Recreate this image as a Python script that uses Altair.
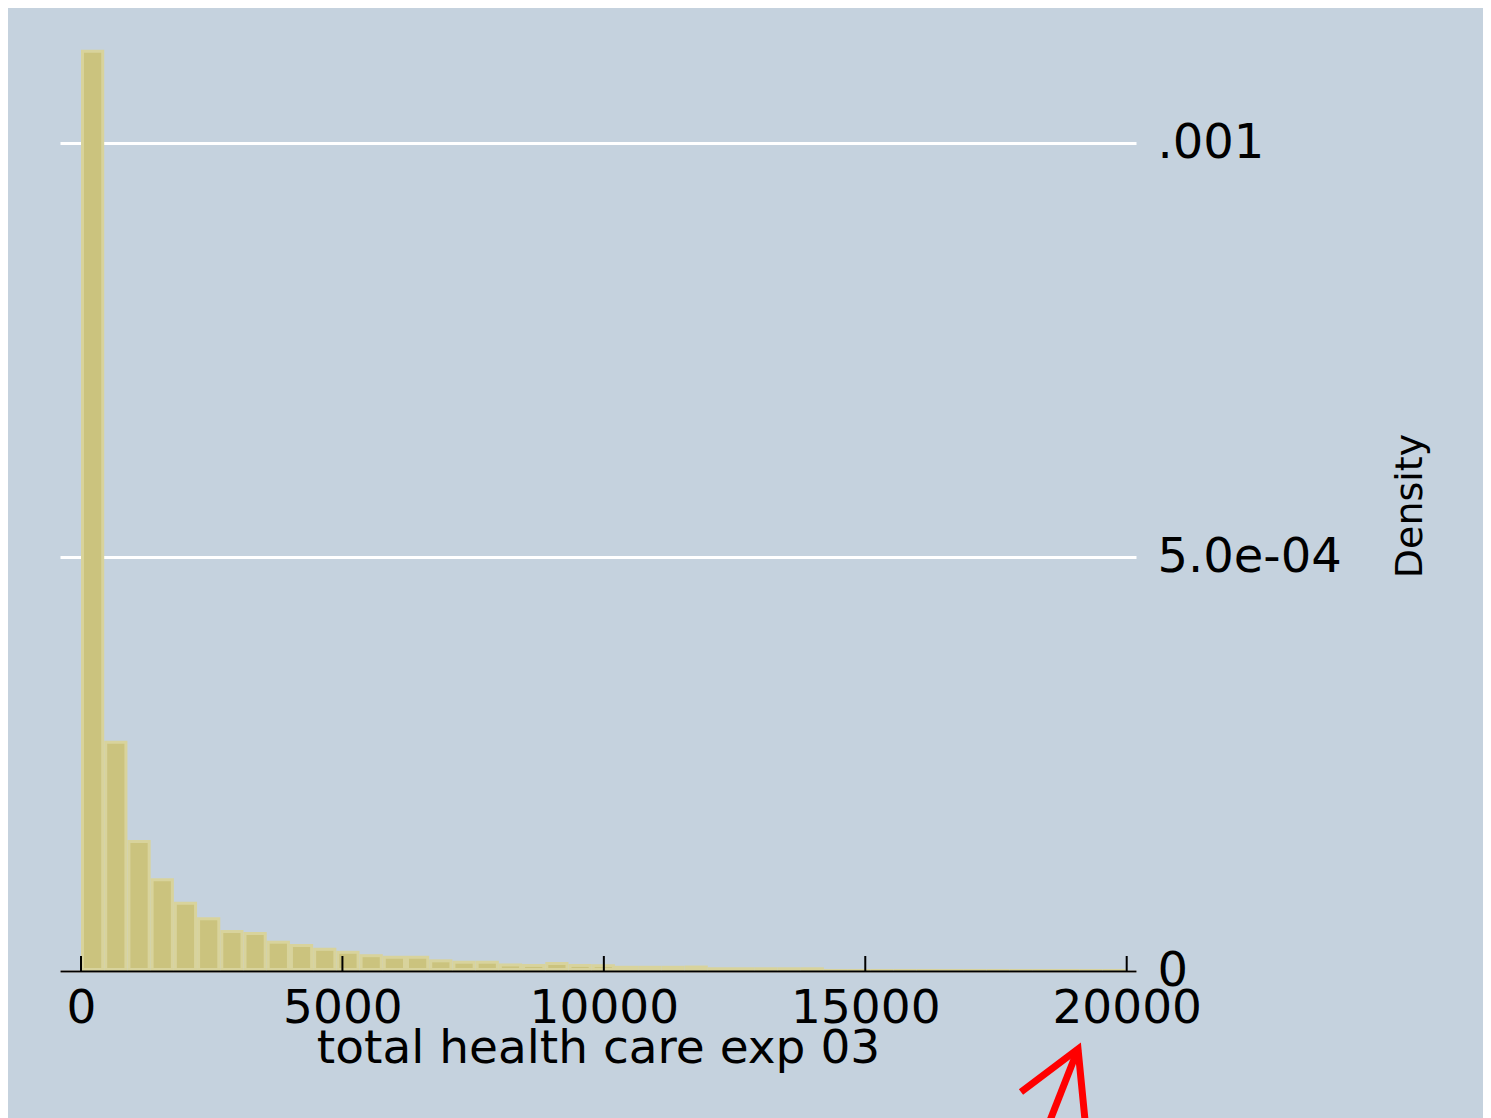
import altair as alt
import pandas as pd

# ---- data ----
bin_width = 444
density_e6 = [1113, 278.2, 158.3, 112.0, 83.7, 64.9, 49.5, 47.1, 36.6, 32.6,
              28.0, 24.4, 20.3, 18.4, 18.4, 14.1, 12.4, 12.4, 9.1, 8.5,
              10.9, 8.5, 8.2, 6.3, 6.3, 6.3, 6.6, 4.5, 4.5, 4.5,
              4.5, 4.5, 2.4, 2.4, 2.4, 2.4, 2.4, 2.4, 2.4, 2.4,
              2.4, 2.4, 2.4, 2.4, 2.4]
x_ticks = [0, 5000, 10000, 15000, 20000]
y_ticks = [0, 0.0005, 0.001]
y_tick_labels = ["0", "5.0e-04", ".001"]
x_title = "total health care exp 03"
y_title = "Density"
x_domain = [-401.6, 20177.9]
y_domain = [0, 0.0011248]
# red annotation arrow (data units)
arrow_wings_x = [17978, 19069, 19212]
arrow_wings_y = [-1.462e-4, -9.42e-5, -1.861e-4]
arrow_shaft_x = [19069, 18499]
arrow_shaft_y = [-9.42e-5, -1.861e-4]

# ---- styling ----
BG = "#c5d2de"
BAR_FILL = "#cbc37e"
BAR_EDGE = "#d8d39c"
FONT = "DejaVu Sans"

bars = pd.DataFrame({
    "start": [i * bin_width for i in range(len(density_e6))],
    "end": [(i + 1) * bin_width for i in range(len(density_e6))],
    "density": [d * 1e-6 for d in density_e6],
    "base": [0.0] * len(density_e6),
})
ticks_df = pd.DataFrame({"t": x_ticks})
arrow_df = pd.DataFrame({
    "ax": arrow_wings_x + arrow_shaft_x,
    "ay": arrow_wings_y + arrow_shaft_y,
    "seg": ["w"] * len(arrow_wings_x) + ["s"] * len(arrow_shaft_x),
    "ord": list(range(len(arrow_wings_x))) + list(range(len(arrow_shaft_x))),
})

# label expression from tick lists
expr = "'" + y_tick_labels[-1] + "'"
for i in range(len(y_ticks) - 2, -1, -1):
    mid = (y_ticks[i] + y_ticks[i + 1]) / 2
    expr = f"datum.value < {mid} ? '{y_tick_labels[i]}' : ({expr})"

xscale = alt.Scale(domain=x_domain, nice=False, zero=False)
yscale = alt.Scale(domain=y_domain, nice=False, zero=False)

x_axis = alt.Axis(values=x_ticks, format="d", title=x_title, ticks=False, tickSize=0,
                  labelPadding=14, labelFont=FONT, labelFontSize=47, labelColor="black",
                  labelOverlap=False, labelBound=False, labelFlush=False, labelLimit=0,
                  domainColor="black", domainWidth=2, grid=False,
                  titleFont=FONT, titleFontSize=47, titleFontWeight="normal",
                  titleColor="black", titleBaseline="alphabetic", titleY=91, zindex=1,
                  titleLimit=0)
y_axis = alt.Axis(orient="right", values=y_ticks, labelExpr=expr, ticks=False, tickSize=0,
                  labelPadding=21, labelFont=FONT, labelFontSize=48, labelColor="black",
                  labelAlign="left", labelBaseline="middle", labelLimit=0,
                  labelOverlap=False, labelBound=False, labelFlush=False,
                  domain=False, grid=True, gridColor="white", gridWidth=3,
                  title=y_title, titleFont=FONT, titleFontSize=38, titleFontWeight="normal",
                  titleColor="black", titleAngle=270, titleX=285, titleY=465.5,
                  titleAlign="center", titleBaseline="alphabetic", titleLimit=0)


def X(field):
    return alt.X(field, scale=xscale, axis=x_axis)


def Y(field):
    return alt.Y(field, scale=yscale, axis=y_axis)


outer = alt.Chart(bars).mark_bar(color=BAR_EDGE).encode(
    x=X("start:Q"), x2="end:Q", y=Y("density:Q"), y2="base:Q",
)
inner = alt.Chart(bars).transform_filter(
    f"datum.density > {6.5 / 827700}"
).mark_bar(color=BAR_FILL, xOffset=3, x2Offset=-3, yOffset=3, y2Offset=-3).encode(
    x=X("start:Q"), x2="end:Q", y=Y("density:Q"), y2="base:Q",
)
tick_marks = alt.Chart(ticks_df).mark_rule(color="black", strokeWidth=2).encode(
    x=X("t:Q"),
    y=alt.value(916),
    y2=alt.value(931),
)
arrow = alt.Chart(arrow_df).mark_line(color="red", strokeWidth=7, strokeJoin="miter",
                                      strokeCap="butt").encode(
    x=X("ax:Q"),
    y=Y("ay:Q"),
    detail="seg:N",
    order="ord:Q",
)

chart = alt.layer(outer, inner, tick_marks, arrow).properties(
    width=1076, height=931,
    padding={"left": 52, "top": 32, "right": 347, "bottom": 147},
    autosize=alt.AutoSizeParams(type="none"),
    background=BG,
).configure_view(stroke=None)

chart.save("out.html", embed_options={"renderer": "svg", "actions": False})
